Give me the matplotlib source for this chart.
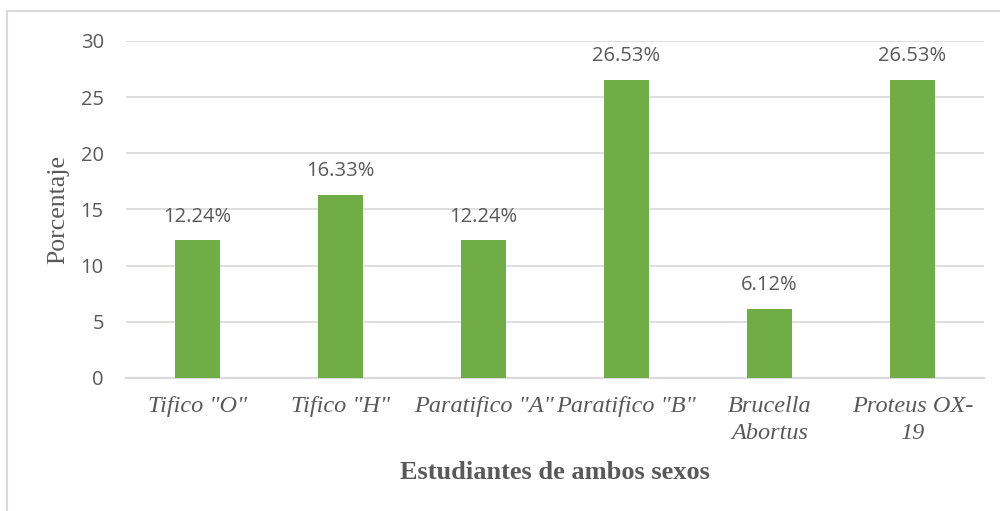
import matplotlib.pyplot as plt
from matplotlib.patches import Rectangle

categories = ['Tifico "O"', 'Tifico "H"', 'Paratifico "A"', 'Paratifico "B"',
              'Brucella\nAbortus', 'Proteus OX-\n19']
porcentajes = [12.24, 16.33, 12.24, 26.53, 6.12, 26.53]
etiquetas = ['12.24%', '16.33%', '12.24%', '26.53%', '6.12%', '26.53%']

gris = '#595959'
verde = '#70AD47'
linea = '#D9D9D9'

fig = plt.figure(figsize=(10, 5.11), dpi=100)
ax = fig.add_axes([0.126, 0.2603, 0.858, 0.6595])

# marco exterior del grafico
fig.patches.append(Rectangle((0.007, -0.05), 1.1, 1.0285, transform=fig.transFigure,
                             fill=False, edgecolor=linea, linewidth=1.5))

x = range(len(categories))
ax.bar(x, porcentajes, width=0.32, color=verde, zorder=3)

for xi, v, lab in zip(x, porcentajes, etiquetas):
    ax.annotate(lab, (xi, v), xytext=(0, 10), textcoords='offset points',
                ha='center', va='bottom', fontsize=14.5, color=gris,
                family='Open Sans')

ax.set_xlim(-0.5, len(categories) - 0.5)
ax.set_ylim(0, 30)
ax.set_yticks([0, 5, 10, 15, 20, 25, 30])
ax.yaxis.grid(True, color=linea, linewidth=1.2, zorder=0)
ax.set_axisbelow(True)

for s in ['top', 'right', 'left']:
    ax.spines[s].set_visible(False)
ax.spines['bottom'].set_color(linea)
ax.spines['bottom'].set_linewidth(1.5)

ax.tick_params(axis='both', length=0)
ax.tick_params(axis='y', pad=16, labelsize=14.5, labelcolor=gris)
ax.tick_params(axis='x', pad=13, labelcolor=gris)
for t in ax.get_yticklabels():
    t.set_family('Open Sans')

ax.set_xticks(list(x))
ax.set_xticklabels(categories, fontsize=17.5, style='italic', family='Liberation Serif',
                   linespacing=1.4)

ax.set_ylabel('Porcentaje', fontsize=18.5, family='Liberation Serif', color=gris, labelpad=8)
ax.set_xlabel('Estudiantes de ambos sexos', fontsize=19, fontweight='bold',
              family='Liberation Serif', color=gris, labelpad=12)

fig.savefig('out.png', dpi=100)
